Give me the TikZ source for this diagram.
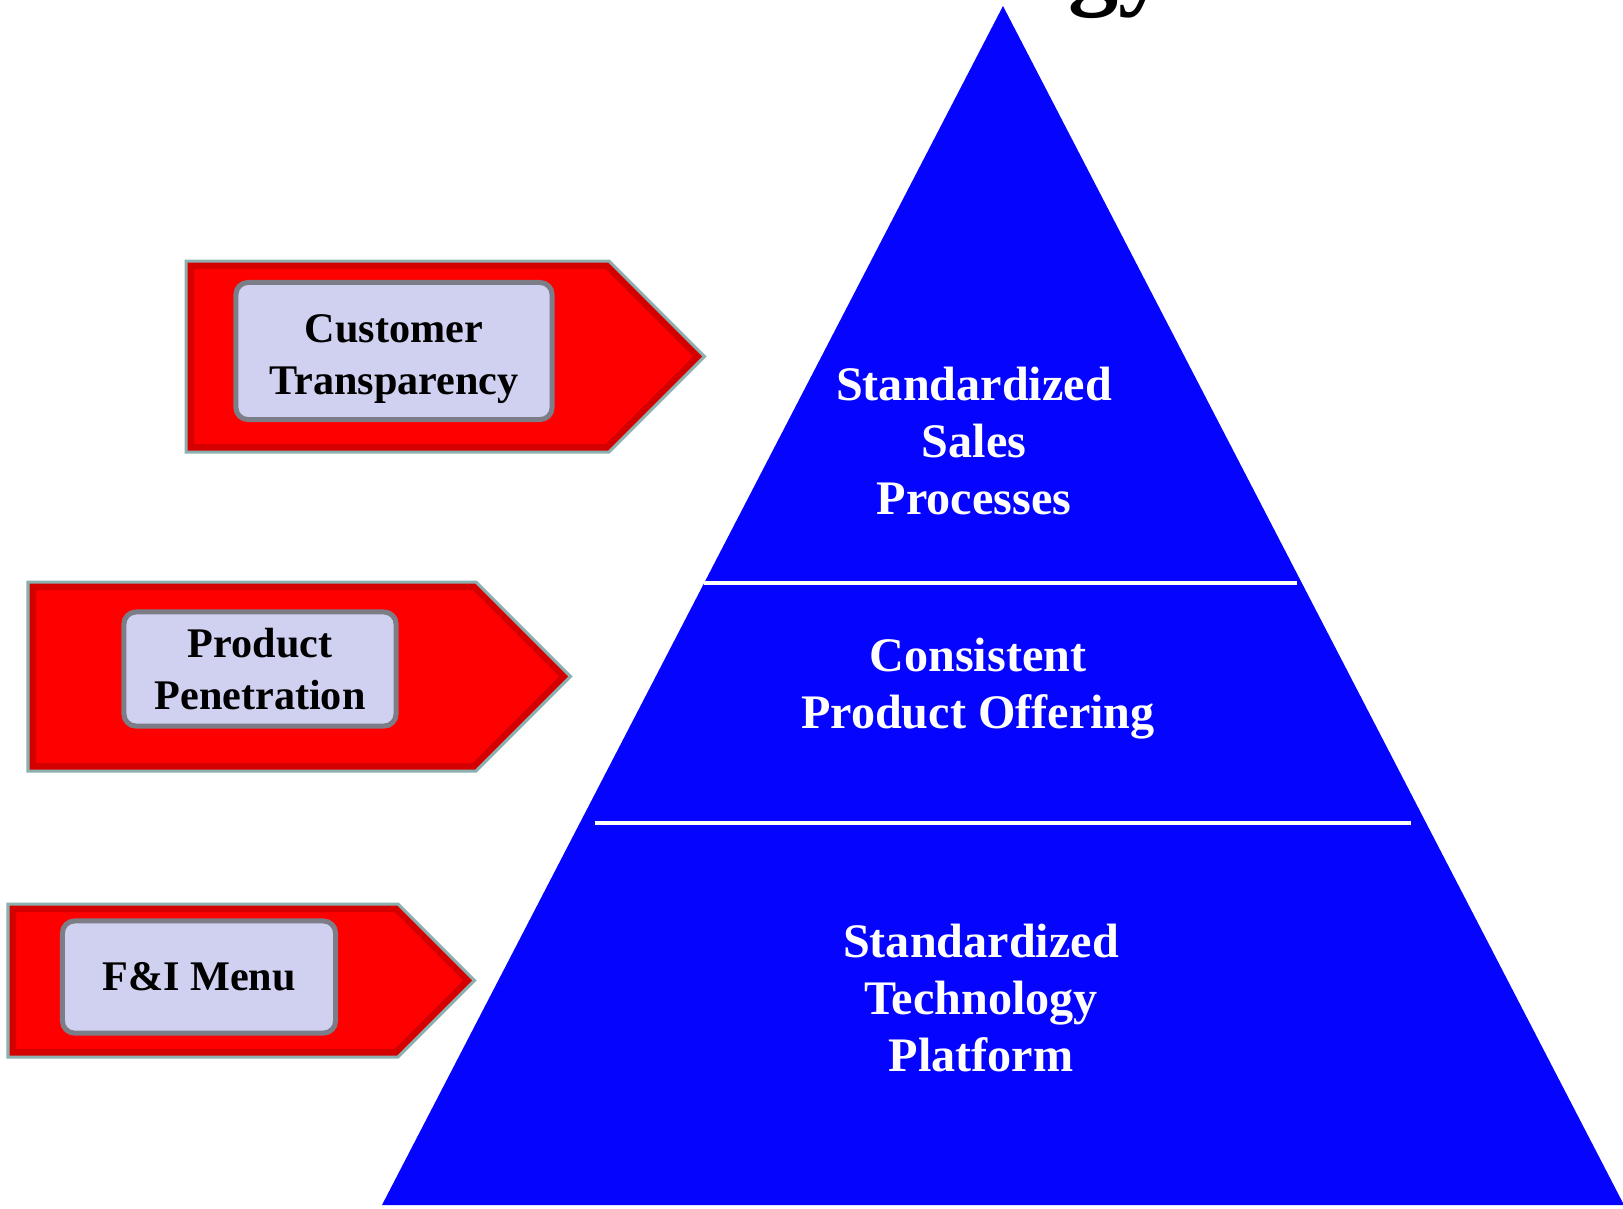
\documentclass[tikz,border=0pt]{standalone}
\usepackage{fontspec}
\setmainfont{Liberation Serif}
\definecolor{pyrblue}{RGB}{4,4,255}
\definecolor{tagred}{RGB}{255,0,0}
\definecolor{tagshade}{RGB}{170,0,0}
\definecolor{tagedge}{RGB}{140,176,176}
\definecolor{lavender}{RGB}{208,208,240}
\definecolor{boxgray}{RGB}{125,125,135}
\begin{document}
\begin{tikzpicture}[x=0.01cm, y=-0.01cm,
  layer/.style={text=white, align=center, font=\bfseries\fontsize{13.7}{16.2}\selectfont},
  divider/.style={draw=white, line width=0.045cm},
  tagbox/.style={fill=lavender, draw=boxgray, line width=0.05cm, rounded corners=0.12cm,
    inner sep=0pt, align=center, font=\bfseries\fontsize{12}{14.7}\selectfont}]
\clip (0,0) rectangle (1623,1208);
\fill[white] (0,0) rectangle (1623,1208);

% title, only its descenders fall inside the page
\node[anchor=base west, inner sep=0pt, font=\bfseries\fontsize{28.5}{32}\selectfont] (title) at (1068,-4) {gy};

% pyramid
\fill[pyrblue] (1003,6) -- (1624,1205) -- (382,1205) -- cycle;
\draw[divider] (704,583) -- (1297,583);
\draw[divider] (595,823) -- (1411,823);

\node[layer] (sales) at (974,441) {Standardized\\Sales\\Processes};
\node[layer] (offer) at (978,689) {Consistent\\Product Offering};
\node[layer] (tech) at (981,998) {Standardized\\Technology\\Platform};

% red tags: left / top / bottom / shoulder
\foreach \l/\t/\b/\s in {186/261/452/609, 28/582/771/476, 8/904/1057/398} {
  \begin{scope}
    \clip (\l,\t) -- (\s,\t) -- ({\s+(\b-\t)/2},{(\t+\b)/2}) -- (\s,\b) -- (\l,\b) -- cycle;
    \fill[tagred] (\l,\t) rectangle ({\s+(\b-\t)/2},\b);
    \draw[tagshade, opacity=0.5, line width=0.16cm] (\l,\t) -- (\s,\t) -- ({\s+(\b-\t)/2},{(\t+\b)/2}) -- (\s,\b) -- (\l,\b) -- cycle;
  \end{scope}
  \draw[tagedge, line width=0.03cm] (\l,\t) -- (\s,\t) -- ({\s+(\b-\t)/2},{(\t+\b)/2}) -- (\s,\b) -- (\l,\b) -- cycle;
}

\node[tagbox, minimum width=3.16cm, minimum height=1.37cm] (transp) at (394,351) {\rule{0pt}{0.44cm}Customer\\Transparency};
\node[tagbox, minimum width=2.72cm, minimum height=1.14cm] (penet) at (260,669) {Product\\Penetration};
\node[tagbox, minimum width=2.73cm, minimum height=1.12cm] (menu) at (199,977) {F\&I Menu};
\end{tikzpicture}
\end{document}
